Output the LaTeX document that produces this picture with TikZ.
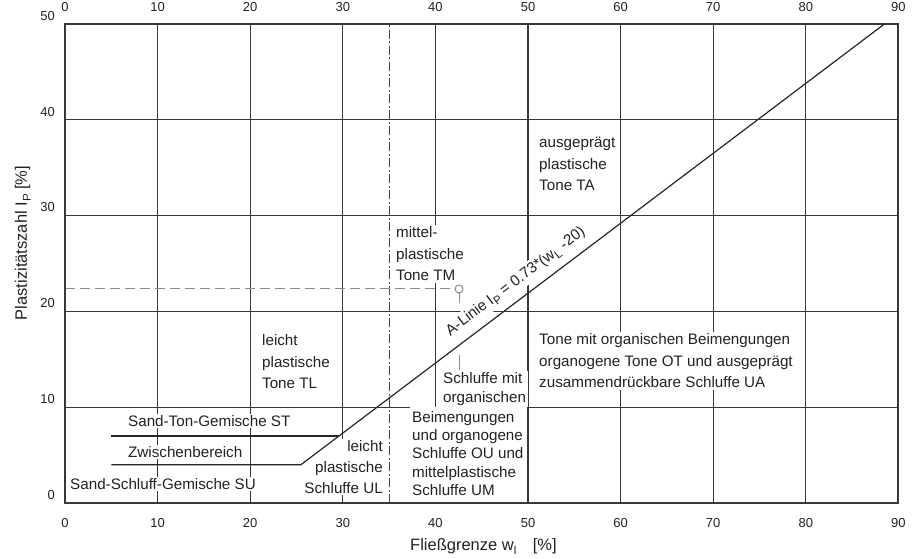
\documentclass[tikz,border=0pt]{standalone}
\usepackage{fontspec}
\setmainfont{Liberation Sans}
\definecolor{gridc}{HTML}{383838}
\definecolor{txtc}{HTML}{222222}
\definecolor{dashc}{HTML}{8A8A8A}
\newcommand{\lowsub}[1]{\raisebox{-0.45ex}{\fontsize{11.5}{11.5}\selectfont #1}}
\begin{document}
\begin{tikzpicture}[x=9.26pt,y=9.58pt,
  gridline/.style={draw=gridc,line width=1.25pt},
  frameline/.style={draw=gridc,line width=1.9pt},
  aline/.style={draw=black!85,line width=1.2pt},
  lbl/.style={font=\fontsize{15.2}{21.5}\selectfont, text=txtc, align=left, fill=white, inner sep=1.5pt},
  lbltight/.style={lbl, font=\fontsize{15.2}{18.3}\selectfont},
  tick/.style={font=\fontsize{13}{13}\selectfont, text=txtc, inner sep=0pt},
  axtitle/.style={font=\fontsize{16.5}{16.5}\selectfont, text=txtc, inner sep=0pt},
]
\useasboundingbox (-65pt,-55pt) rectangle (858pt,503pt);

% grid
\foreach \x in {10,20,30,50,60,70,80} \draw[gridline] (\x,0) -- (\x,50);
\draw[gridline] (40,10) -- (40,50);
\foreach \y in {20,30,40} \draw[gridline] (0,\y) -- (90,\y);
\draw[gridline] (0,10) -- (37.3,10);
\draw[gridline] (50,10) -- (90,10);

% dash-dot line at w_L = 35
\draw[draw=gray!60!black, line width=1.1pt, dash pattern=on 9pt off 2.5pt on 2pt off 2.5pt] (35,0) -- (35,50);

% example point
\coordinate (pt) at (42.55,22.34);
\coordinate (y0) at (0,22.34);
\draw[draw=dashc, line width=1pt, dash pattern=on 10pt off 5pt] (y0) -- ([xshift=-4pt]pt);
\draw[draw=dashc, line width=1pt] (pt) circle[radius=4pt];
\draw[draw=dashc, line width=1pt] ([yshift=-4pt]pt) -- (42.55,20.88);
\draw[draw=dashc, line width=1pt] (42.55,15.45) -- (42.55,13.88);

% region labels
\node[lbl, anchor=west] (ta) at (51.03,35.39) {ausgeprägt\\plastische\\Tone TA};
\node[lbl, anchor=west] (tm) at (35.58,25.99) {mittel-\\plastische\\Tone TM};
\node[lbl, anchor=west] (tl) at (21.11,14.72) {leicht\\plastische\\Tone TL};
\node[lbl, anchor=west] (ot) at (51.03,14.82) {Tone mit organischen Beimengungen\\organogene Tone OT und ausgeprägt\\zusammendrückbare Schluffe UA};
\node[lbltight, anchor=west] (om) at (40.66,11.9) {Schluffe mit\\organischen};
\node[lbltight, anchor=west] (ou) at (37.31,5.19) {Beimengungen\\und organogene\\Schluffe OU und\\mittelplastische\\Schluffe UM};
\node[lbl, anchor=east, align=right, font=\fontsize{15.2}{21}\selectfont] (ul) at (34.50,3.76) {leicht\\plastische\\Schluffe UL};
\node[lbl, anchor=west] (st) at (6.64,8.56) {Sand-Ton-Gemische ST};
\node[lbl, anchor=west] (zw) at (6.64,5.35) {Zwischenbereich};
\node[lbl, anchor=west] (su) at (0.38,1.98) {Sand-Schluff-Gemische SU};

% frame
\draw[frameline] (0,0) rectangle (90,50);

% A-line and boundary lines
\coordinate (s7) at (5,7);
\coordinate (e7) at (29.59,7);
\coordinate (s4) at (5,4);
\coordinate (k4) at (25.48,4);
\coordinate (atop) at (88.49,50);
\draw[aline] (s7) -- (e7);
\draw[aline] (s4) -- (k4) -- (atop);
\node[lbl, rotate=37.06, inner sep=2.5pt] (alab) at (48.70,23.07) {A-Linie I\lowsub{P} = 0.73*(w\lowsub{L} -20)};

% ticks
\foreach \x in {0,10,...,90} {
  \node[tick] (b\x) at (\x,-2.09) {\x};
  \node[tick] (t\x) at (\x,51.8) {\x};
}
\foreach \y in {0,10,...,50} \node[tick, anchor=east] (l\y) at (-1.08,\y+0.85) {\y};

% axis titles
\node[axtitle] (xt) at (45.19,-4.59) {Fließgrenze w\lowsub{l}\hspace{1em}[\%]};
\node[axtitle, rotate=90] (yt) at (-4.54,27.14) {Plastizitätszahl I\lowsub{P} [\%]};
\end{tikzpicture}
\end{document}
